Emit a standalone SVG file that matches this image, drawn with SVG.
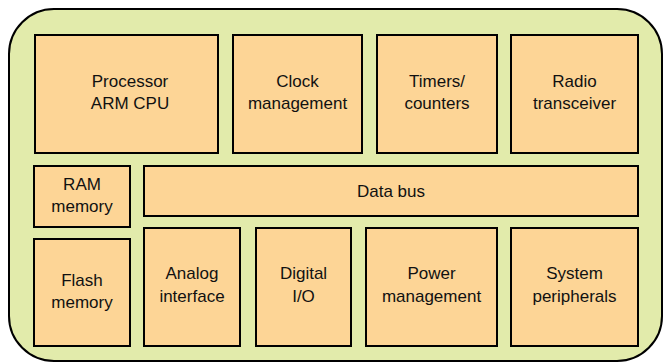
<svg xmlns="http://www.w3.org/2000/svg" width="664" height="363" viewBox="0 0 664 363">
<style>
.bg{fill:#E2EBAB;stroke:#000;stroke-width:2}
.b{fill:#FDD596;stroke:#000;stroke-width:2}
text{font-family:"Liberation Sans",Arial,sans-serif;font-size:17px;fill:#111;text-anchor:middle}
</style>
<rect class="bg" x="9" y="9" width="653" height="352" rx="45" ry="45"/>
<g id="processor"><rect class="b" x="35" y="35" width="183" height="118"/><text x="130" y="87">Processor</text><text x="130" y="109">ARM CPU</text></g>
<g id="clock"><rect class="b" x="233" y="35" width="129" height="118"/><text x="297.5" y="87">Clock</text><text x="297.5" y="109">management</text></g>
<g id="timers"><rect class="b" x="377" y="35" width="120" height="118"/><text x="437" y="87">Timers/</text><text x="437" y="109">counters</text></g>
<g id="radio"><rect class="b" x="511" y="35" width="127" height="118"/><text x="574.5" y="87">Radio</text><text x="574.5" y="109">transceiver</text></g>
<g id="ram"><rect class="b" x="34" y="166" width="96" height="61"/><text x="82" y="190">RAM</text><text x="82" y="212">memory</text></g>
<g id="databus"><rect class="b" x="144" y="166" width="494" height="50"/><text x="391" y="197">Data bus</text></g>
<g id="flash"><rect class="b" x="34" y="239" width="96" height="107"/><text x="82" y="286">Flash</text><text x="82" y="308">memory</text></g>
<g id="analog"><rect class="b" x="144" y="228" width="96" height="118"/><text x="192" y="279">Analog</text><text x="192" y="302">interface</text></g>
<g id="digital"><rect class="b" x="256" y="228" width="95" height="118"/><text x="303.5" y="279">Digital</text><text x="303.5" y="302">I/O</text></g>
<g id="power"><rect class="b" x="366" y="228" width="131" height="118"/><text x="431.5" y="279">Power</text><text x="431.5" y="302">management</text></g>
<g id="system"><rect class="b" x="511" y="228" width="127" height="118"/><text x="574.5" y="279">System</text><text x="574.5" y="302">peripherals</text></g>
<g id="connectors"></g>
</svg>
